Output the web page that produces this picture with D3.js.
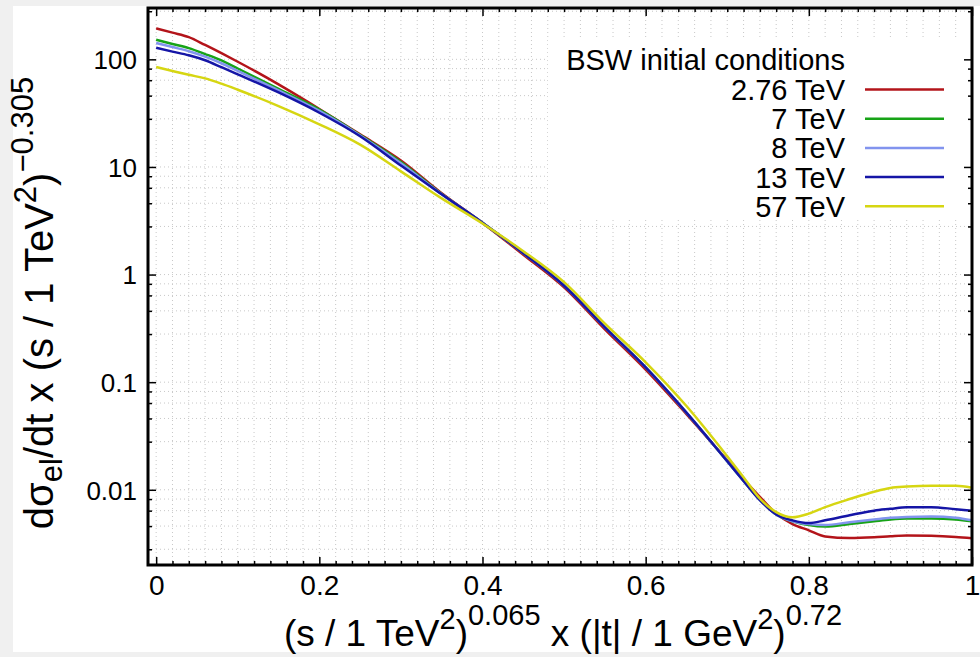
<!DOCTYPE html>
<html>
<head>
<meta charset="utf-8">
<script src="https://cdn.jsdelivr.net/npm/d3@7"></script>
<style>
html,body{margin:0;padding:0;background:#f0f0f0;}
svg{display:block;}
text{font-family:"Liberation Sans", Arial, Helvetica, sans-serif;fill:#000;}
</style>
</head>
<body>
<svg id="chart" width="980" height="657"></svg>
<script>
// ---- data ----
const xValues = [0, 0.02, 0.04, 0.06, 0.08, 0.1, 0.15, 0.2, 0.25, 0.3, 0.35, 0.4, 0.45, 0.5, 0.55, 0.6, 0.65, 0.7, 0.72, 0.74, 0.76, 0.78, 0.8, 0.82, 0.85, 0.88, 0.9, 0.92, 0.95, 0.98, 1.0];
const seriesNames = ["2.76 TeV", "7 TeV", "8 TeV", "13 TeV", "57 TeV"];
const red276 = [194, 177, 161, 136, 114, 95, 58.5, 34.6, 20.1, 11.5, 5.7, 3.02, 1.53, 0.76, 0.31, 0.131, 0.0505, 0.0188, 0.0126, 0.0086, 0.0060, 0.0048, 0.0042, 0.00368, 0.00356, 0.00362, 0.0037, 0.00376, 0.00374, 0.00365, 0.00355];
const green7 = [152, 139, 127, 112, 97.7, 82.2, 53.1, 34.1, 19.8, 11.1, 5.6, 3.03, 1.58, 0.787, 0.323, 0.137, 0.052, 0.0184, 0.0121, 0.0081, 0.0059, 0.0051, 0.0047, 0.00455, 0.0048, 0.0051, 0.0053, 0.0054, 0.0054, 0.0053, 0.0051];
const lblue8 = [142, 130, 119, 106, 92, 78, 51.5, 33.2, 19.6, 10.8, 5.58, 3.03, 1.58, 0.787, 0.323, 0.137, 0.052, 0.0184, 0.0121, 0.0081, 0.0059, 0.0051, 0.0048, 0.0047, 0.0050, 0.0053, 0.0055, 0.0056, 0.00565, 0.0055, 0.0052];
const blue13 = [128, 118, 109, 98, 84.5, 72.6, 49.2, 31.9, 19.3, 10.3, 5.57, 3.03, 1.58, 0.787, 0.323, 0.137, 0.0521, 0.0184, 0.0121, 0.0080, 0.0059, 0.0052, 0.0049, 0.0052, 0.0058, 0.0064, 0.00665, 0.0069, 0.0069, 0.0066, 0.0064];
const yellow57 = [84.9, 78, 71.8, 66.5, 59.4, 52.2, 36.8, 24.9, 16.1, 9.1, 5.1, 2.98, 1.65, 0.85, 0.35, 0.153, 0.060, 0.0205, 0.0131, 0.0083, 0.0062, 0.00555, 0.0060, 0.0069, 0.0082, 0.0096, 0.0104, 0.0107, 0.0109, 0.0109, 0.01045];
const seriesColors = ["#b3141a", "#17a317", "#8294ee", "#1515a6", "#d6d612"];
const xTickValues = [0, 0.2, 0.4, 0.6, 0.8, 1];
const xTickLabels = ["0", "0.2", "0.4", "0.6", "0.8", "1"];
const yTickValues = [0.01, 0.1, 1, 10, 100];
const yTickLabels = ["0.01", "0.1", "1", "10", "100"];
const legendTitle = "BSW initial conditions";

// ---- layout ----
const W = 980, H = 657;
const L = 148, R = 972, T = 8, B = 565;
const svg = d3.select("#chart");

svg.append("rect").attr("x", 13).attr("y", 6).attr("width", W - 13).attr("height", 646).attr("fill", "#fff");

const x = d3.scaleLinear().domain([-0.01, 1]).range([L, R]);
const y = d3.scaleLog().domain([0.002, 300]).range([B, T]);

// minor ticks
const xMinor = d3.range(0, 51).map(i => i * 0.02);
const yMinor = [];
[-3, -2, -1, 0, 1, 2].forEach(e => {
  for (let k = 1; k <= 4; k++) {
    const v = Math.pow(10, e) * (1 + k * 1.8);
    if (v >= 0.002 && v <= 300) yMinor.push(v);
  }
});

// grid
const grid = svg.append("g").attr("stroke", "#c8c8c8").attr("stroke-width", 1).attr("stroke-dasharray", "1,3");
xMinor.forEach(v => {
  if (v < 1) grid.append("line").attr("x1", x(v)).attr("x2", x(v)).attr("y1", T).attr("y2", B);
});
yMinor.concat(yTickValues).forEach(v => {
  grid.append("line").attr("x1", L).attr("x2", R).attr("y1", y(v)).attr("y2", y(v));
});

// legend background (opaque key)
svg.append("rect").attr("x", 548).attr("y", 38).attr("width", R - 548 - 2).attr("height", 182).attr("fill", "#fff");

// curves
const allSeries = [red276, green7, lblue8, blue13, yellow57];
const line = d3.line().x((d, i) => x(xValues[i])).y(d => y(d)).curve(d3.curveMonotoneX);
svg.append("clipPath").attr("id", "clip").append("rect").attr("x", L).attr("y", T).attr("width", R - L).attr("height", B - T);
const curves = svg.append("g").attr("clip-path", "url(#clip)");
allSeries.forEach((s, i) => {
  curves.append("path").datum(s).attr("d", line).attr("fill", "none")
    .attr("stroke", seriesColors[i]).attr("stroke-width", 2.5).attr("stroke-linejoin", "round");
});

// axes
const xAxisB = d3.axisBottom(x).tickValues(xTickValues).tickFormat((d, i) => xTickLabels[i]).tickSizeInner(-8).tickSizeOuter(0).tickPadding(10);
const gxb = svg.append("g").attr("transform", `translate(0,${B})`).call(xAxisB);
const xAxisT = d3.axisTop(x).tickValues(xTickValues).tickFormat("").tickSizeInner(-8).tickSizeOuter(0);
const gxt = svg.append("g").attr("transform", `translate(0,${T})`).call(xAxisT);
const yAxisL = d3.axisLeft(y).tickValues(yTickValues).tickFormat((d, i) => yTickLabels[i]).tickSizeInner(-8).tickSizeOuter(0).tickPadding(11);
const gyl = svg.append("g").attr("transform", `translate(${L},0)`).call(yAxisL);
const yAxisR = d3.axisRight(y).tickValues(yTickValues).tickFormat("").tickSizeInner(-8).tickSizeOuter(0);
const gyr = svg.append("g").attr("transform", `translate(${R},0)`).call(yAxisR);
[gxb, gxt, gyl, gyr].forEach(g => {
  g.select(".domain").remove();
  g.selectAll(".tick line").attr("stroke", "#000").attr("stroke-width", 1.5);
  g.selectAll(".tick text").attr("font-family", "Liberation Sans, Arial, sans-serif").attr("fill", "#000");
});
gxb.selectAll(".tick text").attr("font-size", 28).attr("dy", "0.7em");
gyl.selectAll(".tick text").attr("font-size", 26).attr("dy", "0.36em");

// minor ticks via axes
const xMinorVals = xMinor.filter(v => xTickValues.indexOf(Math.round(v * 100) / 100) < 0);
[[d3.axisBottom, B], [d3.axisTop, T]].forEach(([fn, pos]) => {
  const g = svg.append("g").attr("transform", `translate(0,${pos})`).call(fn(x).tickValues(xMinorVals).tickFormat("").tickSizeInner(-4).tickSizeOuter(0));
  g.select(".domain").remove();
  g.selectAll(".tick line").attr("stroke", "#000").attr("stroke-width", 1.5);
});
[[d3.axisLeft, L], [d3.axisRight, R]].forEach(([fn, pos]) => {
  const g = svg.append("g").attr("transform", `translate(${pos},0)`).call(fn(y).tickValues(yMinor).tickFormat("").tickSizeInner(-4).tickSizeOuter(0));
  g.select(".domain").remove();
  g.selectAll(".tick line").attr("stroke", "#000").attr("stroke-width", 1.5);
});

// frame
svg.append("rect").attr("x", L).attr("y", T).attr("width", R - L).attr("height", B - T)
  .attr("fill", "none").attr("stroke", "#000").attr("stroke-width", 3);

// legend
const lg = svg.append("g");
lg.append("text").attr("x", 845).attr("y", 70).attr("text-anchor", "end").attr("font-size", 29).text(legendTitle);
seriesNames.forEach((n, i) => {
  const cy = 89.5 + i * 29.2;
  lg.append("text").attr("x", 845).attr("y", cy + 10.5).attr("text-anchor", "end").attr("font-size", 29).text(n);
  lg.append("line").attr("x1", 865).attr("x2", 944).attr("y1", cy).attr("y2", cy)
    .attr("stroke", seriesColors[i]).attr("stroke-width", 2.5);
});

// x axis title
const xt = svg.append("text").attr("x", 563).attr("y", 646).attr("text-anchor", "middle").attr("font-size", 37);
xt.append("tspan").text("(s / 1 TeV");
xt.append("tspan").attr("font-size", 29).attr("dy", -17).text("2");
xt.append("tspan").attr("dy", 17).text(")");
xt.append("tspan").attr("font-size", 29).attr("dy", -21).text("0.065");
xt.append("tspan").attr("dy", 21).text(" x (|t| / 1 GeV");
xt.append("tspan").attr("font-size", 29).attr("dy", -17).text("2");
xt.append("tspan").attr("dy", 17).text(")");
xt.append("tspan").attr("font-size", 29).attr("dy", -21).text("0.72");

// y axis title
const yt = svg.append("text").attr("transform", "translate(53,303) rotate(-90)").attr("text-anchor", "middle").attr("font-size", 40);
yt.append("tspan").text("dσ");
yt.append("tspan").attr("font-size", 31).attr("dy", 9).text("el");
yt.append("tspan").attr("dy", -9).text("/dt x (s / 1 TeV");
yt.append("tspan").attr("font-size", 31).attr("dy", -17).text("2");
yt.append("tspan").attr("dy", 17).text(")");
yt.append("tspan").attr("font-size", 31).attr("dy", -20).text("−0.305");
</script>
</body>
</html>
